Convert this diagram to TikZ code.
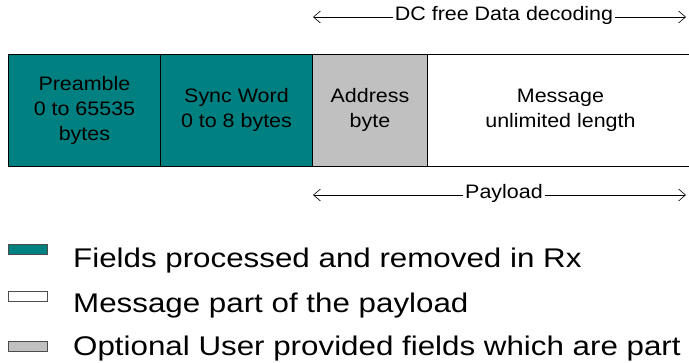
\documentclass[tikz,border=0pt]{standalone}
\usepackage{fontspec}
\setmainfont{Liberation Sans}
\newfontfamily\cellfont[FakeStretch=1.1]{Liberation Sans}
\newfontfamily\keyfont[FakeStretch=1.16]{Liberation Sans}
\usepackage{tikz}
\usetikzlibrary{arrows.meta,%
                positioning}
\definecolor{rxteal}{RGB}{0,128,128}
\definecolor{usergray}{RGB}{192,192,192}

\begin{document}
\begin{tikzpicture}[x=1pt,y=-1pt,>={Straight Barb[length=7pt,width=12pt,line width=0.6pt]},
  field/.style={draw,line width=0.9pt,anchor=north west,inner sep=0pt,
    minimum height=112pt,align=center,font=\cellfont\fontsize{19.5}{25}\selectfont},
  span/.style={inner xsep=2pt,inner ysep=0pt,text height=1.38ex,text depth=0pt,
    font=\cellfont\fontsize{19.5}{25}\selectfont},
  spanline/.style={->,line width=0.7pt},
  key/.style={draw=black!70,line width=0.6pt,anchor=north west,inner sep=0pt,
    minimum width=39pt,minimum height=10pt},
  keytext/.style={anchor=base west,inner sep=0pt,font=\keyfont\fontsize{27}{30}\selectfont}]
\useasboundingbox (0,0) rectangle (689,362);
% frame fields
\node[field,fill=rxteal,minimum width=152pt] (pre) at (8,54) {Preamble\\0 to 65535\\bytes};
\node[field,fill=rxteal,minimum width=152pt] (sync) at (160,54) {Sync Word\\0 to 8 bytes};
\node[field,fill=usergray,minimum width=115pt] (addr) at (312,54) {Address\\byte};
\node[field,minimum width=266pt] (msg) at (427,54) {Message\\unlimited length};
% spans
\node[span] (dc) at (504,17) {DC free Data decoding};
\coordinate (dcL) at (313,17);
\coordinate (dcR) at (686,17);
\draw[spanline] (dc.west) -- (dcL);
\draw[spanline] (dc.east) -- (dcR);
\node[span] (pay) at (504,195) {Payload};
\coordinate (payL) at (313,195);
\coordinate (payR) at (686,195);
\draw[spanline] (pay.west) -- (payL);
\draw[spanline] (pay.east) -- (payR);
% legend
\node[key,fill=rxteal] (kteal) at (8,244) {};
\node[key,fill=white] (kwhite) at (8,291) {};
\node[key,fill=usergray] (kgray) at (8,341) {};
\node[keytext] (tteal) at (73,267) {Fields processed and removed in Rx};
\node[keytext] (twhite) at (73,312) {Message part of the payload};
\node[keytext] (tgray) at (73,355) {Optional User provided fields which are part};
\end{tikzpicture}
\end{document}
